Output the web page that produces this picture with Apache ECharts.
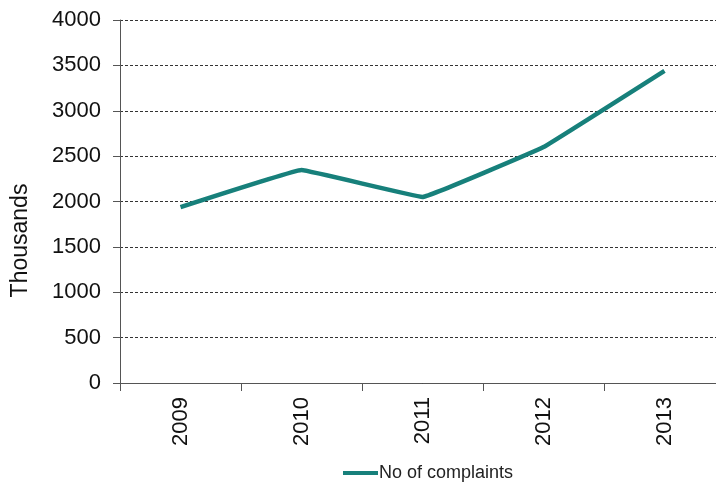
<!DOCTYPE html>
<html lang="en">
<head>
    <meta charset="UTF-8">
    <title>No of complaints</title>
    <script src="https://cdn.jsdelivr.net/npm/echarts@6/dist/echarts.min.js"></script>
    <style>
        html, body { margin: 0; padding: 0; background: #fff; overflow: hidden; }
        #chart { width: 730px; height: 485px; }
    </style>
</head>
<body>
<div id="chart"></div>
<script type="text/javascript">
    // data
    var years = ['2009', '2010', '2011', '2012', '2013'];
    var complaints = [1937, 2346, 2050, 2600, 3440];
    var yTicks = { min: 0, max: 4000, step: 500 };

    var myChart = echarts.init(document.getElementById('chart'));

    var option = {
        animation: false,
        textStyle: { fontFamily: 'Liberation Sans, Arial, sans-serif' },
        // plot runs a little past the right edge of the window, as in the reference
        grid: {
            left: 120,
            top: 20,
            width: 605,
            bottom: 102
        },
        legend: {
            top: 459,
            left: 338,
            icon: 'rect',
            itemWidth: 35,
            itemHeight: 4,
            itemGap: 4,
            textStyle: {
                fontSize: 18,
                color: '#222',
                padding: [0, 0, 0, -4]
            },
            data: ['No of complaints']
        },
        xAxis: {
            type: 'category',
            data: years,
            boundaryGap: true,
            axisLine: { show: true, lineStyle: { color: '#555', width: 1 } },
            axisTick: { show: true, length: 8, lineStyle: { color: '#555' } },
            axisLabel: {
                rotate: 90,
                fontSize: 22,
                color: '#111',
                margin: 14
            },
            splitLine: { show: false }
        },
        yAxis: {
            type: 'value',
            min: yTicks.min,
            max: yTicks.max,
            interval: yTicks.step,
            name: 'Thousands',
            nameLocation: 'middle',
            nameGap: 88,
            nameTextStyle: {
                fontSize: 23,
                color: '#111',
                // pushes the title a bit below the middle of the axis
                padding: [0, 78, 0, 0]
            },
            axisLine: { show: true, lineStyle: { color: '#555', width: 1 } },
            axisTick: { show: true, length: 7, lineStyle: { color: '#555' } },
            axisLabel: {
                fontSize: 22,
                color: '#111',
                margin: 19,
                formatter: function (v) { return String(v); }
            },
            splitLine: {
                show: true,
                lineStyle: { color: '#333', type: [3, 2], width: 1 }
            }
        },
        series: [{
            name: 'No of complaints',
            type: 'line',
            data: complaints,
            smooth: 0.05,
            showSymbol: false,
            lineStyle: { color: '#17807b', width: 4.5 },
            itemStyle: { color: '#17807b' }
        }]
    };
    myChart.setOption(option);
</script>
</body>
</html>
